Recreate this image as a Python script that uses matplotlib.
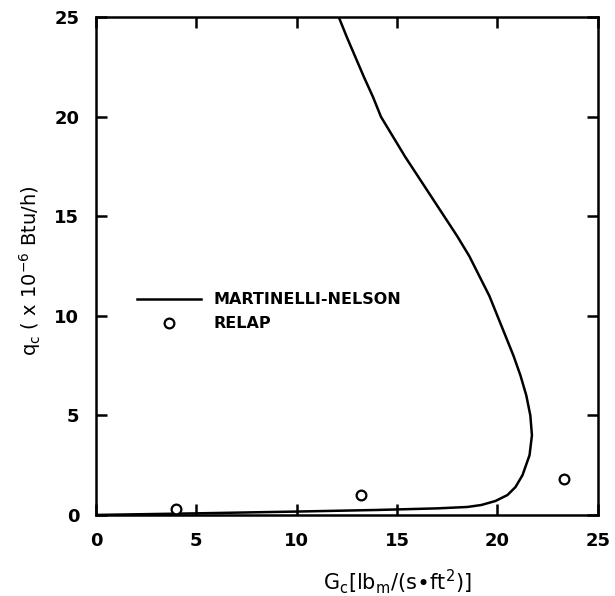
import matplotlib
matplotlib.use("Agg")
import matplotlib.pyplot as plt

# Martinelli-Nelson curve (G_c, q_c)
mn_g = [0.0, 5.0, 10.0, 14.0, 17.0, 18.5, 19.2, 19.9, 20.5, 20.9, 21.25, 21.6,
        21.72, 21.64, 21.44, 21.15, 20.8, 20.4, 20.0, 19.6, 19.1, 18.6, 18.0,
        17.35, 16.7, 16.05, 15.4, 14.8, 14.2, 13.8, 13.35, 12.5, 12.1]
mn_q = [0.0, 0.08, 0.17, 0.25, 0.33, 0.4, 0.5, 0.7, 1.0, 1.4, 2.0, 3.0,
        4.0, 5.0, 6.0, 7.0, 8.0, 9.0, 10.0, 11.0, 12.0, 13.0, 14.0,
        15.0, 16.0, 17.0, 18.0, 19.0, 20.0, 21.0, 22.0, 24.0, 25.0]

# RELAP points
relap_g = [4.0, 13.2, 23.3]
relap_q = [0.3, 1.0, 1.8]

ticks = [0, 5, 10, 15, 20, 25]

fig = plt.figure(figsize=(6.15, 5.96), dpi=100)
ax = fig.add_axes([0.156, 0.136, 0.816, 0.835])

ax.plot(mn_g, mn_q, color="black", lw=1.8, label="MARTINELLI-NELSON")
ax.plot(relap_g, relap_q, "o", ms=7, mfc="white", mec="black", mew=1.6,
        label="RELAP")

ax.set_xlim(0, 25)
ax.set_ylim(0, 25)
ax.set_xticks(ticks)
ax.set_yticks(ticks)
ax.tick_params(direction="in", length=8, width=1.8, top=True, right=True,
               labelsize=13, pad=12)
for lab in ax.get_xticklabels() + ax.get_yticklabels():
    lab.set_fontweight("bold")
for sp in ax.spines.values():
    sp.set_linewidth(1.8)

ax.set_xlabel(r"G$_\mathregular{c}$[lb$_\mathregular{m}$/(s$\bullet$ft$^\mathregular{2}$)]",
              fontsize=15)
ax.xaxis.set_label_coords(0.60, -0.105)
ax.set_ylabel(r"q$_\mathregular{c}$ ( x 10$^\mathregular{-6}$ Btu/h)", fontsize=14)
ax.yaxis.set_label_coords(-0.105, 0.49)

leg = ax.legend(loc="upper left", bbox_to_anchor=(0.082, 0.447), frameon=False,
                prop={"size": 11.5, "weight": "bold"}, handlelength=4.0,
                handletextpad=0.8, labelspacing=0.55, borderpad=0,
                borderaxespad=0)

plt.savefig("out.png", dpi=100)
